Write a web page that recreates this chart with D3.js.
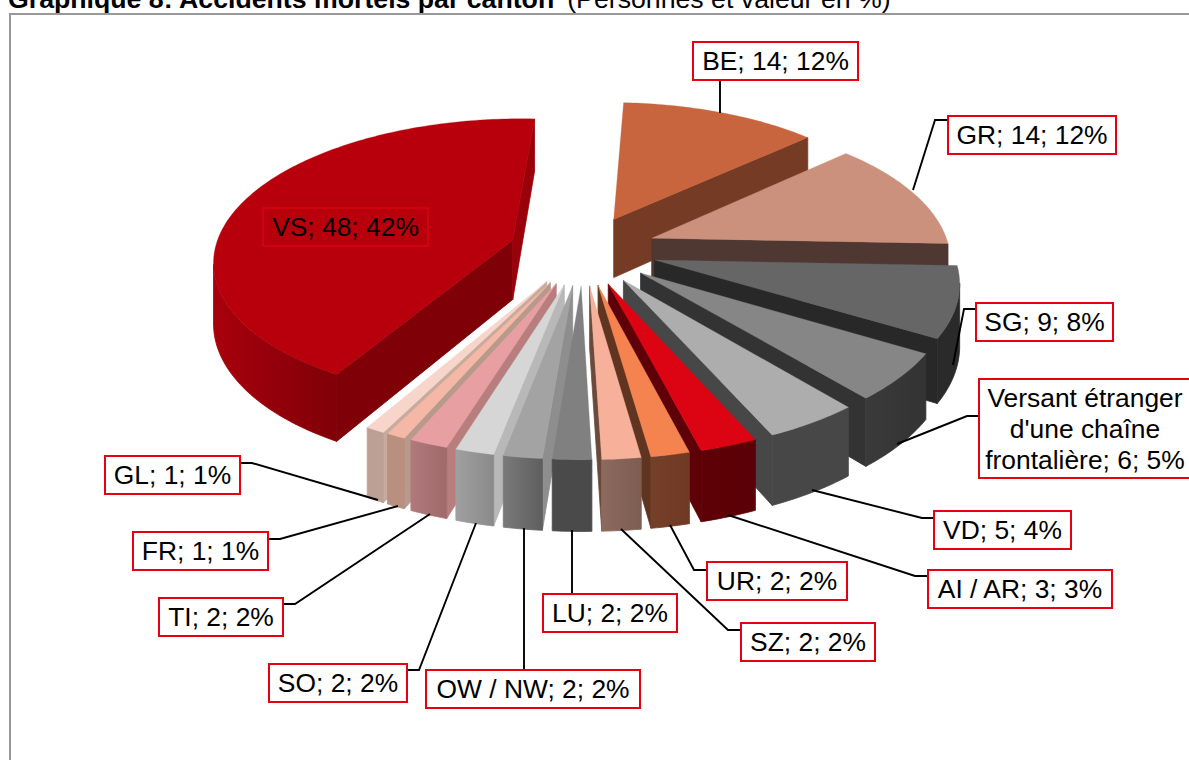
<!DOCTYPE html>
<html><head><meta charset="utf-8">
<style>html,body{margin:0;padding:0;background:#fff;overflow:hidden}svg{display:block}</style>
<script src="https://cdn.jsdelivr.net/npm/d3@7"></script></head>
<body><svg id="c" width="1189" height="760"></svg>
<script>
const cantons=["BE","GR","SG","Versant","VD","AI / AR","UR","SZ","LU","OW / NW","SO","TI","FR","GL","VS"];
const persons=[14,14,9,6,5,3,2,2,2,2,2,2,1,1,48];
const percents=[12,12,8,5,4,3,2,2,2,2,2,2,1,1,42];
const topColors=["#C8653E","#CC917C","#666666","#868686","#ADADAD","#DC0312","#F48350","#F7B09A","#808080","#A3A3A3","#D6D6D6","#E79FA2","#F5B8A6","#F7D5CB","#B8000C"];
const radialColors=["#763B24","#4F3732","#282828","#333333","#474747","#5E0007","#5F3420","#6B4A3C","#6E6E6E","#8E8E8E","#B8B8B8","#B87E7E","#B89A8C","#C9AB9E","#800008"];
const radialEndColors=["#763B24","#4F3732","#282828","#333333","#474747","#5E0007","#5F3420","#6B4A3C","#6E6E6E","#A6A6A6","#B8B8B8","#B87E7E","#B89A8C","#C9AB9E","#9A000A"];
const wallStart=["#763B24","#4F3732","#2A2A2A","#333333","#474747","#5A0006","#6F3923","#7D5C52","#4A4A4A","#5E5E5E","#8A8A8A","#A06A6A","#B98F80","#BDA094","#7F0008"];
const wallEnd=["#763B24","#4F3732","#2A2A2A","#3A3A3A","#474747","#5E0007","#75402A","#8C6A5E","#4A4A4A","#7A7A7A","#A0A0A0","#B0797C","#B98F80","#BDA094","#A8000C"];
const labelTexts=[["BE; 14; 12%"],["GR; 14; 12%"],["SG; 9; 8%"],["Versant étranger","d'une chaîne","frontalière; 6; 5%"],["VD; 5; 4%"],["AI / AR; 3; 3%"],["UR; 2; 2%"],["SZ; 2; 2%"],["LU; 2; 2%"],["OW / NW; 2; 2%"],["SO; 2; 2%"],["TI; 2; 2%"],["FR; 1; 1%"],["GL; 1; 1%"],["VS; 48; 42%"]];
const labelBoxes=[[693,42,165,38],[948,116,168,38],[976,303,137,38],[979,379,212,99],[934,511,137,38],[928,570,184,38],[707,562,140,38],[741,623,134,38],[543,594,134,38],[426,670,214,38],[269,664,138,38],[159,598,124,38],[133,532,135,38],[105,456,135,38],[263,208,165,38]];
const leaders=[[[720,79],[720,113]],[[948,120],[935,120],[913,190]],[[976,309],[964,309],[953,365]],[[979,416],[967,416],[897,444]],[[934,518],[922,518],[812,490]],[[928,576],[915,576],[728,515]],[[707,570],[694,570],[670,525]],[[741,630],[728,630],[621,529]],[[572,594],[572,530]],[[524,670],[524,528]],[[407,670],[419,670],[476,523]],[[283,604],[295,604],[430,514]],[[268,539],[280,539],[398,506]],[[240,463],[252,463],[378,500]],null];

const cx=583,cy=250,R=298,E=74,H=68,P=0.000447,sinT=0.47,cosT=0.88,ROT=3*Math.PI/180;
const svg=d3.select("#c");
function proj(x,y,z){const s=1/(1-y*P);return [cx+x*s,cy+(y*sinT-z*cosT)*s];}
const pie=d3.pie().sort(null).startAngle(ROT).endAngle(ROT+2*Math.PI);
const arcs=pie(persons).map((a,i)=>{
  const mid=(a.startAngle+a.endAngle)/2;
  return {...a,i,mid,ox:E*Math.sin(mid),oy:-E*Math.cos(mid)};
});
const line=d3.line().curve(d3.curveLinearClosed);
function pt(a,r,t,z){return proj(a.ox+r*Math.sin(t),a.oy-r*Math.cos(t),z);}

svg.append("rect").attr("x",10).attr("y",14).attr("width",1200).attr("height",780)
  .attr("fill","#fff").attr("stroke","#999").attr("stroke-width",2);
const title=svg.append("text").attr("x",8).attr("y",8).attr("font-family","Liberation Sans").attr("font-size",26.7).attr("fill","#000");
title.append("tspan").attr("font-weight","bold").text("Graphique 8: Accidents mortels par canton");
title.append("tspan").attr("dx",13).text("(Personnes et valeur en %)");

const defs=svg.append("defs");
const g=svg.append("g");
function face(pts,col,sw){g.append("path").attr("d",line(pts)).attr("fill",col).attr("stroke",col).attr("stroke-width",sw||0.4).attr("stroke-linejoin","round");}
function cross(u,v){return u[0]*v[1]-u[1]*v[0];}
function radialVisible(a,t){
  const tip=pt(a,0,t,0),o=pt(a,R,t,0),c=pt(a,R*.6,a.mid,0);
  const e=[o[0]-tip[0],o[1]-tip[1]];
  return cross(e,[0,1])*cross(e,[c[0]-tip[0],c[1]-tip[1]])<0;
}
const order=arcs.slice().sort((a,b)=>a.oy-b.oy);
order.forEach(a=>{
  const t0=a.startAngle,t1=a.endAngle,i=a.i;
  const n=Math.max(4,Math.ceil((t1-t0)/(1*Math.PI/180)));
  const ts=d3.range(n+1).map(k=>t0+(t1-t0)*k/n);
  const radial=(t,c)=>{ if(radialVisible(a,t)) face([pt(a,0,t,0),pt(a,R,t,0),pt(a,R,t,-H),pt(a,0,t,-H)],c,0.8); };
  if(Math.cos(t0)<Math.cos(t1)){radial(t0,radialColors[i]);radial(t1,radialEndColors[i]);}
  else{radial(t1,radialEndColors[i]);radial(t0,radialColors[i]);}
  const vis=ts.filter((t,k)=>k<n?pt(a,R,ts[k+1],0)[0]<pt(a,R,t,0)[0]:pt(a,R,t,0)[0]<pt(a,R,ts[k-1],0)[0]);
  if(vis.length>1){
    const top=vis.map(t=>pt(a,R,t,0)),bot=vis.map(t=>pt(a,R,t,-H)).reverse();
    const id="w"+i,p0=top[0],p1=top[top.length-1];
    const lg=defs.append("linearGradient").attr("id",id).attr("gradientUnits","userSpaceOnUse")
      .attr("x1",p0[0]).attr("y1",0).attr("x2",p1[0]).attr("y2",0);
    lg.append("stop").attr("offset",0).attr("stop-color",wallStart[i]);
    lg.append("stop").attr("offset",1).attr("stop-color",wallEnd[i]);
    g.append("path").attr("d",line(top.concat(bot))).attr("fill",`url(#${id})`).attr("stroke",`url(#${id})`).attr("stroke-width",0.8);
  }
  face([pt(a,0,t0,0)].concat(ts.map(t=>pt(a,R,t,0))),topColors[i],0.3);
});

const lab=svg.append("g");
labelBoxes.forEach((b,i)=>{
  if(leaders[i]) lab.append("path").attr("d",d3.line()(leaders[i])).attr("fill","none").attr("stroke","#000").attr("stroke-width",1.9);
  lab.append("rect").attr("x",b[0]).attr("y",b[1]).attr("width",b[2]).attr("height",b[3])
    .attr("fill",i===14?"none":"#fff").attr("stroke",i===14?"#DC0312":"#E60012").attr("stroke-width",i===14?1.4:2);
  const t=lab.append("text").attr("font-family","Liberation Sans").attr("font-size",26.4).attr("text-anchor","middle").attr("fill","#000");
  labelTexts[i].forEach((s,k)=>t.append("tspan").attr("x",b[0]+b[2]/2).attr("y",b[1]+27.5+k*31).text(s));
});
</script></body></html>
